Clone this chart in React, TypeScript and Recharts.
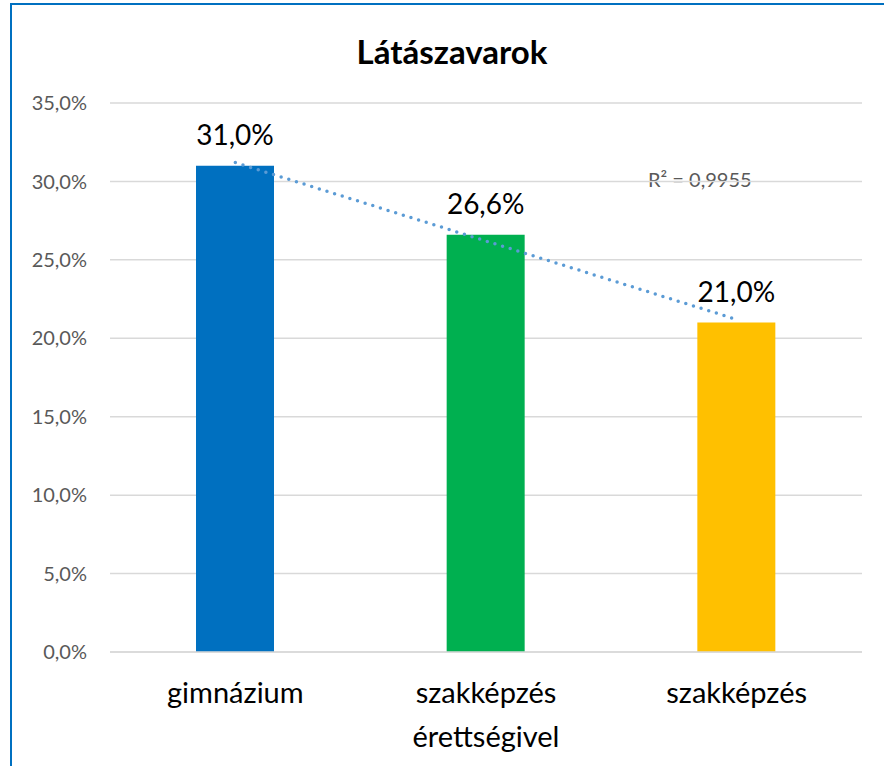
import { ComposedChart, Bar, Line, Cell, XAxis, YAxis, CartesianGrid, LabelList } from "recharts";

const categories = ["gimnázium", "szakképzés\nérettségivel", "szakképzés"];
const values = [31.0, 26.6, 21.0];
// linear trendline values
const trend = [31.2, 26.2, 21.2];
const yTicks = [0, 5, 10, 15, 20, 25, 30, 35];
const colors = ["#0070C0", "#00B050", "#FFC000"];

const data = categories.map((name, i) => ({ name, value: values[i], trend: trend[i] }));

const font = "Lato, 'Open Sans', sans-serif";
const fmt = (v: number) => v.toFixed(1).replace(".", ",") + "%";

const XTick = (props: any) => {
  const { x, y, payload } = props;
  const lines = String(payload.value).split("\n");
  return (
    <text x={x} y={y} textAnchor="middle" fontSize={29} fill="#000" fontFamily={font}>
      {lines.map((l, i) => (
        <tspan key={i} x={x} dy={i === 0 ? 51 : 44}>
          {l}
        </tspan>
      ))}
    </text>
  );
};

export default function App() {
  return (
    <div style={{ position: "absolute", left: 0, top: 0, width: 884, height: 766, background: "#fff", overflow: "hidden" }}>
      <div
        style={{
          position: "absolute",
          left: 10,
          top: 3,
          width: 900,
          height: 800,
          borderLeft: "2px solid #0070C0",
          borderTop: "2px solid #0070C0",
        }}
      />
      <div
        style={{
          position: "absolute",
          left: 0,
          top: 31,
          width: 904,
          textAlign: "center",
          fontFamily: font,
          fontWeight: 700,
          fontSize: 33,
          color: "#000",
        }}
      >
        Látászavarok
      </div>
      <div
        style={{
          position: "absolute",
          left: 648,
          top: 167,
          fontFamily: font,
          fontSize: 20,
          color: "#595959",
        }}
      >
        R² = 0,9955
      </div>
      <ComposedChart width={884} height={766} data={data} margin={{ top: 103, right: 22, bottom: 84, left: 10 }}>
        <CartesianGrid vertical={false} stroke="#D9D9D9" strokeWidth={1.5} />
        <XAxis
          dataKey="name"
          height={30}
          axisLine={{ stroke: "#D9D9D9", strokeWidth: 1.5 }}
          tickLine={false}
          tick={<XTick />}
          interval={0}
          tickSize={0}
          tickMargin={0}
        />
        <YAxis
          domain={[0, 35]}
          ticks={yTicks}
          width={100}
          axisLine={false}
          tickLine={false}
          tickSize={0}
          tickMargin={23}
          tickFormatter={fmt}
          tick={{ fill: "#595959", fontSize: 20, fontFamily: font }}
        />
        <Bar dataKey="value" barSize={78} isAnimationActive={false}>
          {data.map((d, i) => (
            <Cell key={d.name} fill={colors[i]} />
          ))}
          <LabelList
            dataKey="value"
            position="top"
            offset={21}
            formatter={(v: any) => fmt(Number(v))}
            style={{ fill: "#000", fontSize: 28, fontFamily: font }}
          />
        </Bar>
        <Line
          dataKey="trend"
          stroke="#5B9BD5"
          strokeWidth={3.5}
          strokeDasharray="0 8"
          strokeLinecap="round"
          dot={false}
          activeDot={false}
          isAnimationActive={false}
        />
      </ComposedChart>
    </div>
  );
}
